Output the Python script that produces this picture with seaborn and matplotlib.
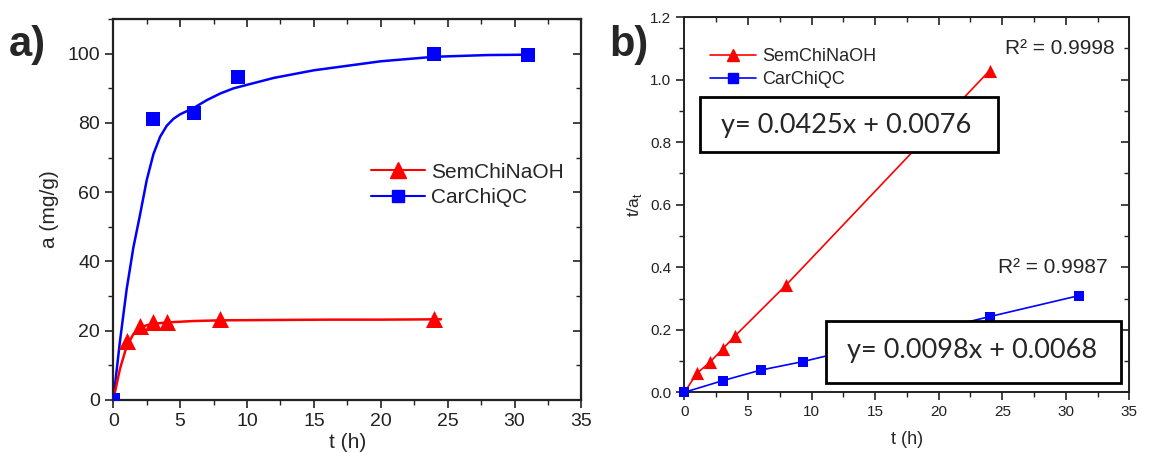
import matplotlib
matplotlib.use('Agg')
import matplotlib.pyplot as plt
import seaborn as sns
from matplotlib.lines import Line2D
from matplotlib.patches import Rectangle
from matplotlib.ticker import MultipleLocator, FormatStrFormatter

# ---- panel a) measured uptake
t_sem = [1, 2, 3, 4, 8, 24]
a_sem = [17.0, 21.5, 22.5, 22.5, 23.3, 23.3]
t_car = [0, 3, 6, 9.3, 24, 31]
a_car = [0.0, 81.0, 83.0, 93.2, 99.8, 99.7]

# fitted curves
fit_t_sem = [0, 0.5, 1, 1.5, 2, 2.5, 3, 4, 5, 6, 8, 12, 16, 20, 24.5]
fit_a_sem = [0, 9, 15.5, 19, 20.8, 21.6, 22, 22.4, 22.6, 22.8, 23, 23.1, 23.2, 23.2, 23.3]
fit_t_car = [0, 0.5, 1, 1.5, 2, 2.5, 3, 3.5, 4, 4.5, 5, 6, 7, 8, 9, 10, 12, 15, 20, 24, 28, 31]
fit_a_car = [0, 17, 32, 44, 53.5, 63.5, 71, 76, 79.2, 81.2, 82.5, 84.3, 86.6, 88.5, 90, 91, 93, 95.2, 97.8, 99.1, 99.6, 99.7]

# ---- panel b) linearised t/a_t
tb_sem = [0, 1, 2, 3, 4, 8, 24]
ya_sem = [0.0, 0.061, 0.096, 0.138, 0.181, 0.343, 1.029]
tb_car = [0, 3, 6, 9.3, 24, 31]
ya_car = [0.0, 0.037, 0.071, 0.098, 0.242, 0.309]

eq_sem = "y= 0.0425x + 0.0076"
eq_car = "y= 0.0098x + 0.0068"
r2_sem = "R² = 0.9998"
r2_car = "R² = 0.9987"

RED = '#FF0000'
BLUE = '#0000FF'

sns.set_style("ticks")
plt.rcParams['font.family'] = ['Liberation Sans', 'DejaVu Sans']

fig = plt.figure(figsize=(11.56, 4.53), dpi=100)
ax1 = fig.add_axes([0.098, 0.117, 0.405, 0.841])
ax2 = fig.add_axes([0.592, 0.134, 0.385, 0.828])


def style_axes(ax, labelsize, xmaj, xmin, ymaj, ymin):
    ax.xaxis.set_major_locator(MultipleLocator(xmaj))
    ax.xaxis.set_minor_locator(MultipleLocator(xmin))
    ax.yaxis.set_major_locator(MultipleLocator(ymaj))
    ax.yaxis.set_minor_locator(MultipleLocator(ymin))
    ax.tick_params(which='both', direction='out', bottom=True, left=True,
                   top=False, right=False, colors='#222222', labelsize=labelsize)
    ax.tick_params(which='major', length=6, width=1.2)
    ax.tick_params(which='minor', length=3.5, width=1.0)
    # mirror ticks pointing inward on top/right
    for side in ['top', 'right']:
        sec = ax.secondary_xaxis('top') if side == 'top' else ax.secondary_yaxis('right')
        axis = sec.xaxis if side == 'top' else sec.yaxis
        axis.set_major_locator(MultipleLocator(xmaj if side == 'top' else ymaj))
        axis.set_minor_locator(MultipleLocator(xmin if side == 'top' else ymin))
        sec.tick_params(which='both', direction='in', labelsize=0, colors='#222222')
        sec.tick_params(which='major', length=6, width=1.2)
        sec.tick_params(which='minor', length=3.5, width=1.0)
        axis.set_ticklabels([])
    for s in ax.spines.values():
        s.set_linewidth(1.4)
        s.set_color('#222222')


# ---------------- panel a
sns.lineplot(x=fit_t_car, y=fit_a_car, ax=ax1, color=BLUE, lw=1.8, sort=False)
sns.lineplot(x=fit_t_sem, y=fit_a_sem, ax=ax1, color=RED, lw=1.8, sort=False)
sns.scatterplot(x=t_car, y=a_car, ax=ax1, color=BLUE, marker='s', s=110,
                edgecolor=BLUE, linewidth=0, zorder=3)
sns.scatterplot(x=t_sem, y=a_sem, ax=ax1, color=RED, marker='^', s=150,
                edgecolor=RED, linewidth=0, zorder=3)
ax1.set_xlim(0, 35)
ax1.set_ylim(0, 110)
style_axes(ax1, 14, 5, 2.5, 20, 10)
for s in ax1.spines.values():
    s.set_linewidth(1.6)
ax1.set_xlabel("t (h)", fontsize=15, labelpad=2)
ax1.set_ylabel("a (mg/g)", fontsize=15, labelpad=6)

handles = [Line2D([], [], color=RED, marker='^', markersize=11, lw=1.5),
           Line2D([], [], color=BLUE, marker='s', markersize=9, lw=1.5)]
ax1.legend(handles, ['SemChiNaOH', 'CarChiQC'], loc='center left',
           bbox_to_anchor=(0.51, 0.565), frameon=False, fontsize=15,
           handlelength=2.6, handletextpad=0.3, labelspacing=0.3)

fig.text(0.008, 0.9, "a)", fontsize=30, fontweight='bold', va='center')

# ---------------- panel b
sns.lineplot(x=tb_sem, y=ya_sem, ax=ax2, color=RED, lw=1.2, sort=False)
sns.lineplot(x=tb_car, y=ya_car, ax=ax2, color=BLUE, lw=1.2, sort=False)
sns.scatterplot(x=tb_sem[1:], y=ya_sem[1:], ax=ax2, color=RED, marker='^', s=90,
                edgecolor=RED, linewidth=0, zorder=3)
sns.scatterplot(x=tb_car, y=ya_car, ax=ax2, color=BLUE, marker='s', s=55,
                edgecolor=BLUE, linewidth=0, zorder=3, clip_on=False)
ax2.set_xlim(0, 35)
ax2.set_ylim(0, 1.2)
style_axes(ax2, 11, 5, 2.5, 0.2, 0.1)
ax2.yaxis.set_major_formatter(FormatStrFormatter('%.1f'))
ax2.set_xlabel("t (h)", fontsize=13, labelpad=8)
ax2.set_ylabel(r"t/a$_\mathregular{t}$", fontsize=12.5, labelpad=4)

handles = [Line2D([], [], color=RED, marker='^', markersize=9, lw=1.2),
           Line2D([], [], color=BLUE, marker='s', markersize=7, lw=1.2)]
ax2.legend(handles, ['SemChiNaOH', 'CarChiQC'], loc='upper left',
           bbox_to_anchor=(0.02, 0.96), frameon=False, fontsize=13,
           handlelength=2.6, handletextpad=0.3, labelspacing=0.3)

# equation boxes
ax2.add_patch(Rectangle((1.24, 0.769), 23.42, 0.176, facecolor='white',
                        edgecolor='black', lw=2, zorder=5))
ax2.add_patch(Rectangle((11.15, 0.029), 23.21, 0.200, facecolor='white',
                        edgecolor='black', lw=2, zorder=5))
ax2.text(2.9, 0.852, eq_sem, fontsize=19.5, family=['Lato', 'DejaVu Sans'],
         va='center', ha='left', zorder=6)
ax2.text(12.8, 0.133, eq_car, fontsize=19.5, family=['Lato', 'DejaVu Sans'],
         va='center', ha='left', zorder=6)
ax2.text(33.8, 1.1, r2_sem, fontsize=15, ha='right', va='center')
ax2.text(33.3, 0.4, r2_car, fontsize=15, ha='right', va='center')

fig.text(0.527, 0.9, "b)", fontsize=30, fontweight='bold', va='center')

plt.savefig('out.png', dpi=100)
plt.close()
